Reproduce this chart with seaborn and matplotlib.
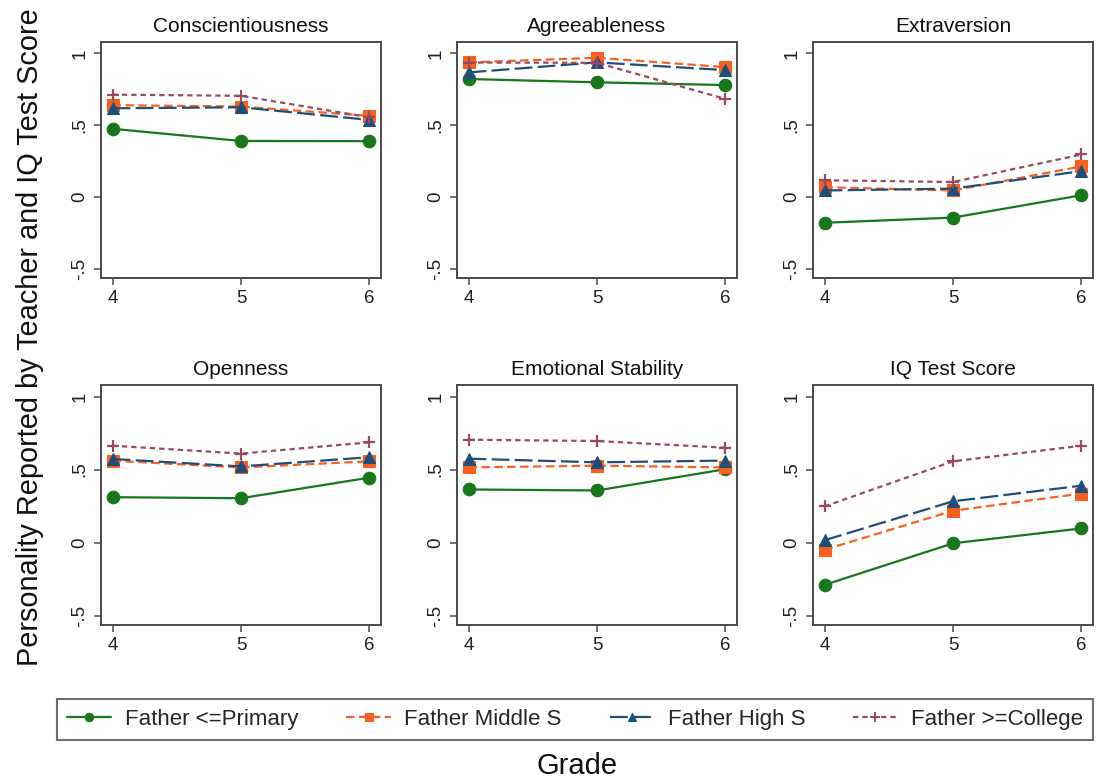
import matplotlib
matplotlib.use("Agg")
import matplotlib.pyplot as plt
from matplotlib.lines import Line2D
import seaborn as sns
import pandas as pd

sns.set_theme(style="white")
plt.rcParams["font.family"] = ["Liberation Sans", "DejaVu Sans"]

# Grades on the x axis
grades = [4, 5, 6]

# Panel titles, in row-major order
panels = ["Conscientiousness", "Agreeableness", "Extraversion",
          "Openness", "Emotional Stability", "IQ Test Score"]

# Father's education groups
groups = ["Father <=Primary", "Father Middle S", "Father High S", "Father >=College"]

# Mean scores by grade, one list per panel and group
conscientiousness = {
    "Father <=Primary": [0.475, 0.390, 0.389],
    "Father Middle S": [0.640, 0.630, 0.565],
    "Father High S": [0.618, 0.625, 0.537],
    "Father >=College": [0.713, 0.705, 0.555],
}
agreeableness = {
    "Father <=Primary": [0.822, 0.799, 0.780],
    "Father Middle S": [0.938, 0.970, 0.905],
    "Father High S": [0.868, 0.938, 0.884],
    "Father >=College": [0.937, 0.935, 0.683],
}
extraversion = {
    "Father <=Primary": [-0.180, -0.144, 0.012],
    "Father Middle S": [0.068, 0.045, 0.213],
    "Father High S": [0.045, 0.058, 0.180],
    "Father >=College": [0.116, 0.104, 0.296],
}
openness = {
    "Father <=Primary": [0.311, 0.304, 0.445],
    "Father Middle S": [0.561, 0.515, 0.557],
    "Father High S": [0.573, 0.522, 0.585],
    "Father >=College": [0.664, 0.610, 0.687],
}
emotional_stability = {
    "Father <=Primary": [0.364, 0.357, 0.503],
    "Father Middle S": [0.515, 0.527, 0.515],
    "Father High S": [0.575, 0.550, 0.562],
    "Father >=College": [0.705, 0.696, 0.650],
}
iq_score = {
    "Father <=Primary": [-0.290, -0.005, 0.097],
    "Father Middle S": [-0.049, 0.218, 0.336],
    "Father High S": [0.016, 0.283, 0.390],
    "Father >=College": [0.248, 0.557, 0.664],
}
panel_values = [conscientiousness, agreeableness, extraversion,
                openness, emotional_stability, iq_score]

# Styling per group
palette = {"Father <=Primary": "#17771a", "Father Middle S": "#f7601f",
           "Father High S": "#1f4e7a", "Father >=College": "#9a4a5e"}
# seaborn needs all-filled markers; the college group gets a thin "+" afterwards
markers = {"Father <=Primary": "o", "Father Middle S": "s",
           "Father High S": "^", "Father >=College": "P"}
final_marker = {"Father <=Primary": "o", "Father Middle S": "s",
                "Father High S": "^", "Father >=College": "+"}
dashes = {"Father <=Primary": "", "Father Middle S": (3.8, 2.0),
          "Father High S": (8.0, 2.4), "Father >=College": (2.4, 1.8)}
msize = {"Father <=Primary": 9.0, "Father Middle S": 8.5,
         "Father High S": 9.0, "Father >=College": 9.0}

rows = []
for panel, vals in zip(panels, panel_values):
    for g in groups:
        for gr, v in zip(grades, vals[g]):
            rows.append({"panel": panel, "group": g, "grade": gr, "value": v})
df = pd.DataFrame(rows)

W, H = 1096, 783
fig = plt.figure(figsize=(W / 100, H / 100), dpi=100)

col_left = [101, 457, 813]
col_width = 280
row_top = [42, 385]
row_height = [236, 240]

frame_color = "#4a4a4a"
lw = 1.6

for i, panel in enumerate(panels):
    r, c = divmod(i, 3)
    left = col_left[c] / W
    bottom = 1 - (row_top[r] + row_height[r]) / H
    ax = fig.add_axes([left, bottom, col_width / W, row_height[r] / H])
    sub = df[df["panel"] == panel]
    sns.lineplot(data=sub, x="grade", y="value", hue="group", style="group",
                 hue_order=groups, style_order=groups, palette=palette,
                 markers=markers, dashes=dashes, linewidth=lw,
                 legend=False, ax=ax)
    for line, g in zip(ax.lines, groups):
        line.set_marker(final_marker[g])
        line.set_markeredgecolor(palette[g])
        line.set_markersize(msize[g])
        line.set_markeredgewidth(1.6 if g == "Father >=College" else 0.8)
    ax.set_xlim(3.91, 6.09)
    ax.set_ylim(-0.565, 1.08)
    ax.set_xticks(grades)
    ax.set_xticklabels([str(g) for g in grades])
    ax.set_yticks([-0.5, 0, 0.5, 1])
    ax.set_yticklabels(["-.5", "0", ".5", "1"], rotation=90, va="center")
    ax.set_xlabel("")
    ax.set_ylabel("")
    ax.set_title(panel, fontsize=15, pad=7, color="#111111")
    ax.tick_params(axis="both", which="major", direction="out", length=5,
                   width=1.1, color=frame_color, labelsize=13.5,
                   labelcolor="#222222", bottom=True, left=True, pad=4)
    for sp in ax.spines.values():
        sp.set_color(frame_color)
        sp.set_linewidth(1.4)
    ax.grid(False)

# Shared axis titles
fig.text(30 / W, 1 - 337 / H, "Personality Reported by Teacher and IQ Test Score",
         rotation=90, ha="center", va="center", fontsize=20.8, color="#111111")
fig.text(577 / W, 1 - 766 / H, "Grade", ha="center", va="center",
         fontsize=21, color="#111111")

# Legend across the bottom
handles = []
for g in groups:
    ls = "-" if dashes[g] == "" else (0, dashes[g])
    handles.append(Line2D([0], [0], color=palette[g], linestyle=ls, linewidth=lw,
                          marker=final_marker[g],
                          markersize=6 if g != "Father >=College" else 7,
                          markerfacecolor=palette[g], markeredgecolor=palette[g],
                          markeredgewidth=1.4 if g == "Father >=College" else 0.8))
leg = fig.legend(handles, groups, ncol=4, mode="expand", loc="lower left",
                 bbox_to_anchor=(57 / W, 1 - 740 / H, (1093 - 57) / W, 47 / H),
                 fontsize=16, frameon=True, fancybox=False, handlelength=2.0,
                 handletextpad=0.6, borderaxespad=0, borderpad=0.45)
leg.get_frame().set_edgecolor(frame_color)
leg.get_frame().set_linewidth(1.5)

fig.savefig("out.png", dpi=100)
